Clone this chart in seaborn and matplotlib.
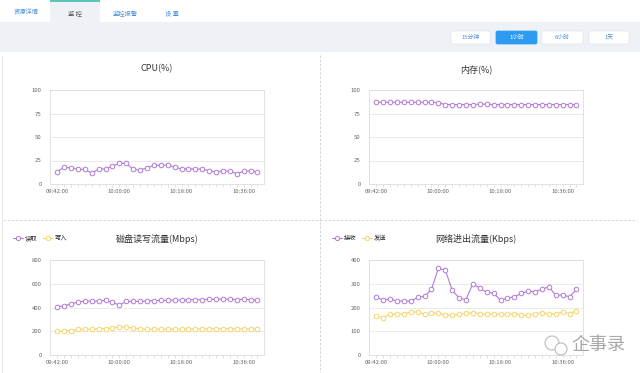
import numpy as np
import pandas as pd
import seaborn as sns
import matplotlib.pyplot as plt
from matplotlib.patches import Rectangle, FancyBboxPatch, Ellipse
from matplotlib.lines import Line2D

sns.set_theme(style="white")
plt.rcParams['font.family'] = ['Noto Sans CJK SC', 'DejaVu Sans']

# data, one point every 2 minutes from 09:42 (30 points)
times = pd.date_range("2000-01-01 09:42", periods=30, freq="2min").strftime("%H:%M:%S")
tick_labels = ["09:42:00", "10:00:00", "10:18:00", "10:36:00"]

cpu = [13, 18, 17, 15.5, 15.5, 11.5, 16, 16, 19, 22, 22, 15.5, 15, 17, 20,
       20, 20, 18, 16, 16, 16, 16, 14, 13, 14, 13.5, 11, 13.5, 14, 13]
mem = [87, 87, 87, 87, 87, 87, 87, 87, 87, 86.5, 84.5, 84.5, 84.5, 84.5, 84.5,
       85, 85, 84.5, 84.5, 84.5, 84.5, 84.5, 84.5, 84.5, 84.5, 84.5, 84.5, 84.5, 84.5, 84.5]
disk_read = [405, 415, 430, 446, 455, 452, 455, 460, 443, 420, 452, 452, 452, 455, 458,
             460, 460, 463, 463, 466, 466, 466, 469, 469, 472, 469, 466, 469, 466, 463]
disk_write = [200, 203, 206, 215, 217, 217, 220, 223, 226, 237, 237, 226, 217, 217, 217,
              217, 218, 218, 218, 219, 219, 219, 220, 220, 220, 220, 219, 219, 219, 218]
net_recv = [246, 230, 237, 226, 228, 226, 243, 247, 276, 365, 358, 273, 240, 233, 301,
            281, 264, 260, 230, 240, 245, 259, 269, 266, 277, 287, 252, 253, 245, 276]
net_send = [164, 157, 172, 171, 174, 181, 181, 171, 177, 175, 168, 168, 172, 175, 178,
            174, 172, 174, 171, 172, 174, 170, 167, 174, 178, 172, 174, 181, 174, 187]

purple = "#b07ad6"
yellow = "#f7d46a"

W, H = 640, 373
fig = plt.figure(figsize=(W / 100, H / 100), dpi=100)
fig.patch.set_facecolor("white")


def rect(l, t, r, b):
    return [l / W, 1 - b / H, (r - l) / W, (b - t) / H]


def fx(x):
    return x / W


def fy(y):
    return 1 - y / H


# top bar with tabs
fig.patches.append(Rectangle((0, fy(52)), 1, 30 / H, transform=fig.transFigure,
                             facecolor="#eef1f6", edgecolor="none", zorder=0))
fig.patches.append(Rectangle((fx(50), fy(22)), 50 / W, 22 / H, transform=fig.transFigure,
                             facecolor="#eef1f6", edgecolor="none", zorder=0))
fig.patches.append(Rectangle((fx(50), fy(1.5)), 50 / W, 1.5 / H, transform=fig.transFigure,
                             facecolor="#5cc6b8", edgecolor="none", zorder=1))
tabs = [("资源详情", 26, "#4a90d9"), ("监 控", 75, "#555555"),
        ("监控报警", 125, "#4a90d9"), ("设 置", 172, "#4a90d9")]
for name, x, c in tabs:
    fig.text(fx(x), fy(13), name, ha="center", va="center", fontsize=4.5, color=c)

buttons = [("15分钟", 451, 490, False), ("1小时", 496, 537, True),
           ("6小时", 542, 583, False), ("1天", 589, 629, False)]
for name, l, r, active in buttons:
    fig.patches.append(FancyBboxPatch((fx(l), fy(44)), (r - l) / W, 13 / H,
                                      boxstyle="round,pad=0,rounding_size=0.003",
                                      transform=fig.transFigure,
                                      facecolor="#2d9cf0" if active else "white",
                                      edgecolor="#2d9cf0" if active else "#dfe3e8",
                                      linewidth=0.5, zorder=1))
    fig.text(fx((l + r) / 2), fy(37.5), name, ha="center", va="center", fontsize=4.2,
             color="white" if active else "#4a90d9", zorder=2)

# dashed separators
fig.add_artist(Line2D([fx(320), fx(320)], [fy(55), 0], transform=fig.transFigure,
                      color="#d0d0d0", lw=0.6, ls=(0, (3, 2))))
fig.add_artist(Line2D([fx(3), fx(637)], [fy(220), fy(220)], transform=fig.transFigure,
                      color="#d0d0d0", lw=0.6, ls=(0, (3, 2))))
fig.add_artist(Line2D([fx(2), fx(2)], [fy(55), 0], transform=fig.transFigure,
                      color="#e2e2e2", lw=0.6))


def draw(ax, series, yticks):
    x = np.arange(len(times))
    for name, vals, color in series:
        df = pd.DataFrame({"idx": x, "value": vals})
        sns.lineplot(data=df, x="idx", y="value", ax=ax, color=color, lw=0.8,
                     marker="o", markersize=3.3, markerfacecolor="white",
                     markeredgecolor=color, markeredgewidth=0.7, label=name)
    ax.set_xlim(-1.05, len(times) - 0.05)
    ax.set_ylim(yticks[0], yticks[-1])
    ax.set_yticks(yticks)
    pos = [list(times).index(t) for t in tick_labels]
    ax.set_xticks(pos)
    ax.set_xticklabels(tick_labels)
    ax.set_xticks(x, minor=True)
    ax.tick_params(axis="x", which="both", length=2, width=0.4, color="#cccccc",
                   labelsize=4.3, labelcolor="#666666", pad=1.5, bottom=True)
    ax.tick_params(axis="y", length=0, labelsize=4.3, labelcolor="#666666", pad=6)
    ax.yaxis.grid(True, color="#e6e6e6", lw=0.6)
    for s in ax.spines.values():
        s.set_color("#dddddd")
        s.set_linewidth(0.6)
    ax.set_xlabel("")
    ax.set_ylabel("")
    ax.get_legend().remove()


ax1 = fig.add_axes(rect(50, 90, 264, 184))
draw(ax1, [("CPU", cpu, purple)], [0, 25, 50, 75, 100])
fig.text(fx(157), fy(69), "CPU(%)", ha="center", va="center", fontsize=6.5, color="#333333")

ax2 = fig.add_axes(rect(369, 90, 583, 184))
draw(ax2, [("内存", mem, purple)], [0, 25, 50, 75, 100])
fig.text(fx(476), fy(69), "内存(%)", ha="center", va="center", fontsize=6.5, color="#333333")

ax3 = fig.add_axes(rect(50, 260, 264, 355))
draw(ax3, [("读取", disk_read, purple), ("写入", disk_write, yellow)], [0, 200, 400, 600, 800])
fig.text(fx(157), fy(239), "磁盘读写流量(Mbps)", ha="center", va="center", fontsize=6.5, color="#333333")

ax4 = fig.add_axes(rect(369, 260, 583, 355))
draw(ax4, [("接收", net_recv, purple), ("发送", net_send, yellow)], [0, 100, 200, 300, 400])
fig.text(fx(476), fy(239), "网络进出流量(Kbps)", ha="center", va="center", fontsize=6.5, color="#333333")

# legends
for ax, names, x0 in [(ax3, ["读取", "写入"], 10), (ax4, ["接收", "发送"], 329)]:
    handles = [Line2D([], [], color=c, lw=0.8, marker="o", markersize=3,
                      markerfacecolor="white", markeredgecolor=c, markeredgewidth=0.7)
               for c in [purple, yellow]]
    ax.legend(handles, names, loc="center left", bbox_to_anchor=(fx(x0), fy(238)),
              bbox_transform=fig.transFigure, ncol=2, frameon=False, fontsize=4.5,
              handlelength=1.6, handletextpad=0.3, columnspacing=0.9, borderaxespad=0)

# watermark: small chat-bubble icon + text
for cx, cy, r in [(552, 343, 7), (561, 349, 6)]:
    fig.patches.append(Ellipse((fx(cx), fy(cy)), 2 * r / W, 2 * r / H,
                               transform=fig.transFigure, facecolor="white",
                               edgecolor="#bbbbbb", lw=0.8, zorder=3))
fig.text(fx(598), fy(345), "企事录", ha="center", va="center", fontsize=13, color="#a8a8a8")

fig.savefig("out.png", dpi=100)
